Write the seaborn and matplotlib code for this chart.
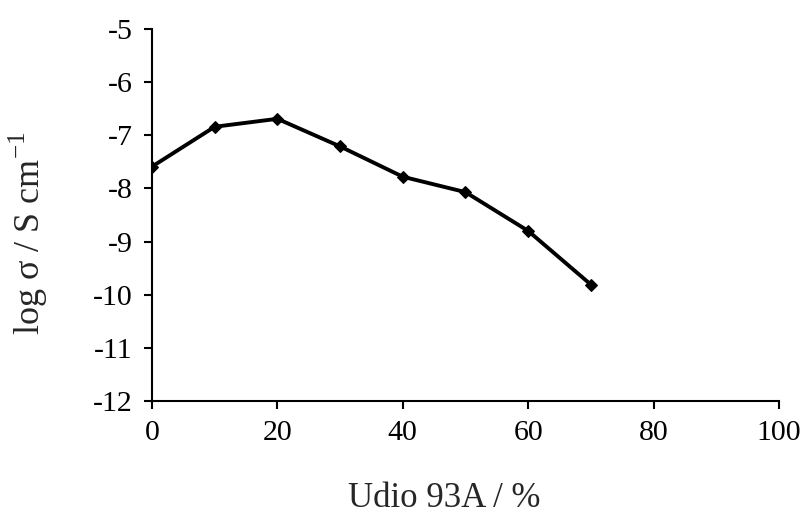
import matplotlib
matplotlib.use("Agg")
import matplotlib.pyplot as plt
import pandas as pd
import seaborn as sns

# Data
udio = [0, 10, 20, 30, 40, 50, 60, 70]
log_sigma = [-7.59, -6.84, -6.69, -7.21, -7.78, -8.07, -8.80, -9.81]

df = pd.DataFrame({"udio": udio, "log_sigma": log_sigma})

sns.set_style("white")
plt.rcParams['font.family'] = ['Liberation Serif', 'DejaVu Serif']
plt.rcParams['mathtext.fontset'] = 'custom'
plt.rcParams['mathtext.rm'] = 'Liberation Serif'

fig, ax = plt.subplots(figsize=(8.05, 5.16), dpi=100)
fig.subplots_adjust(left=0.1888, right=0.9677, top=0.9438, bottom=0.2229)

sns.lineplot(data=df, x="udio", y="log_sigma", ax=ax, color="black",
             linewidth=2.8, marker="D", markersize=6, markeredgecolor="black")

ax.set_xlim(0, 100)
ax.set_ylim(-12, -5)
ax.set_xticks(range(0, 101, 20))
ax.set_yticks(range(-12, -4))
ax.set_yticklabels([str(v) for v in range(-12, -4)])

for s in ["top", "right"]:
    ax.spines[s].set_visible(False)
for s in ["left", "bottom"]:
    ax.spines[s].set_linewidth(1.5)
    ax.spines[s].set_color("black")

ax.tick_params(axis="both", direction="out", length=6, width=1.5,
               labelsize=21.5, colors="black", pad=8, left=True, bottom=True)

ax.set_xlabel("Udio 93A / %", fontsize=25)
ax.set_ylabel(r"log σ / S cm$^{\mathregular{-1}}$", fontsize=26)
ax.xaxis.set_label_coords(0.466, -0.217)
ax.yaxis.set_label_coords(-0.163, 0.45)

fig.savefig("out.png", dpi=100)
